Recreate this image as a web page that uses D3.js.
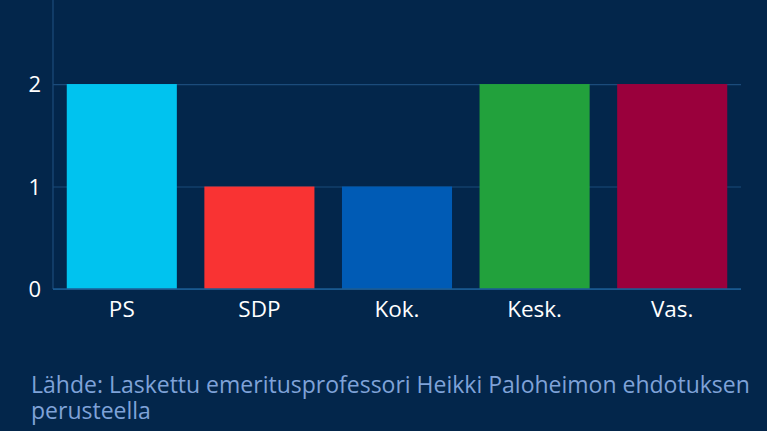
<!DOCTYPE html>
<html>
<head>
<meta charset="utf-8">
<script src="https://cdn.jsdelivr.net/npm/d3@7"></script>
<style>
  html, body { margin: 0; padding: 0; background: #03264b; }
  svg { display: block; }
</style>
</head>
<body>
<svg id="chart" width="767" height="431"></svg>
<script>
  const parties = ["PS", "SDP", "Kok.", "Kesk.", "Vas."];
  const seats = [2, 1, 1, 2, 2];
  const partyColors = ["#00c3ef", "#f93333", "#005bb5", "#22a13c", "#9a003c"];
  const yTicks = [0, 1, 2];
  const sourceLines = [
    "Lähde: Laskettu emeritusprofessori Heikki Paloheimon ehdotuksen",
    "perusteella"
  ];

  const FONT = "'Open Sans', 'Noto Sans', sans-serif";
  const svg = d3.select("#chart");
  const left = 53, right = 741, bottom = 289;

  const x = d3.scaleBand()
    .domain(parties)
    .range([left, right])
    .paddingInner(0.2)
    .paddingOuter(0.1);

  const y = d3.scaleLinear()
    .domain([0, 2.82])
    .range([bottom, 0]);

  // gridlines + labels
  const yAxis = d3.axisLeft(y)
    .tickValues(yTicks)
    .tickFormat(d3.format("d"))
    .tickSize(-(right - left))
    .tickPadding(12);

  const gy = svg.append("g")
    .attr("transform", `translate(${left},0)`)
    .call(yAxis)
    .attr("font-family", FONT)
    .attr("font-size", 22);
  gy.select(".domain").remove();
  gy.selectAll(".tick line").attr("stroke", "#1b4b7b").attr("stroke-width", 1.2);
  gy.selectAll(".tick text")
    .attr("fill", "#ffffff")
    .attr("dy", "0.36em");

  // vertical axis line
  svg.append("line")
    .attr("x1", left).attr("x2", left)
    .attr("y1", 0).attr("y2", bottom)
    .attr("stroke", "#1b4b7b")
    .attr("stroke-width", 1.2);

  svg.append("g")
    .selectAll("rect")
    .data(parties)
    .join("rect")
    .attr("x", (d) => x(d))
    .attr("width", x.bandwidth())
    .attr("y", (d, i) => y(seats[i]))
    .attr("height", (d, i) => y(0) - y(seats[i]))
    .attr("fill", (d, i) => partyColors[i]);

  // baseline on top of bars
  svg.append("line")
    .attr("x1", left).attr("x2", right)
    .attr("y1", bottom).attr("y2", bottom)
    .attr("stroke", "#1b5c94")
    .attr("stroke-width", 1.5);

  const xAxis = d3.axisBottom(x).tickSize(0).tickPadding(12);
  const gx = svg.append("g")
    .attr("transform", `translate(0,${bottom})`)
    .call(xAxis)
    .attr("font-family", FONT)
    .attr("font-size", 22.5);
  gx.select(".domain").remove();
  gx.selectAll(".tick text")
    .attr("fill", "#ffffff");

  svg.append("text")
    .attr("x", 31)
    .attr("y", 393)
    .attr("fill", "#7fa2d8")
    .attr("font-family", FONT)
    .attr("font-size", 23)
    .selectAll("tspan")
    .data(sourceLines)
    .join("tspan")
    .attr("x", 31)
    .attr("dy", (d, i) => (i === 0 ? 0 : 26))
    .text((d) => d);
</script>
</body>
</html>
